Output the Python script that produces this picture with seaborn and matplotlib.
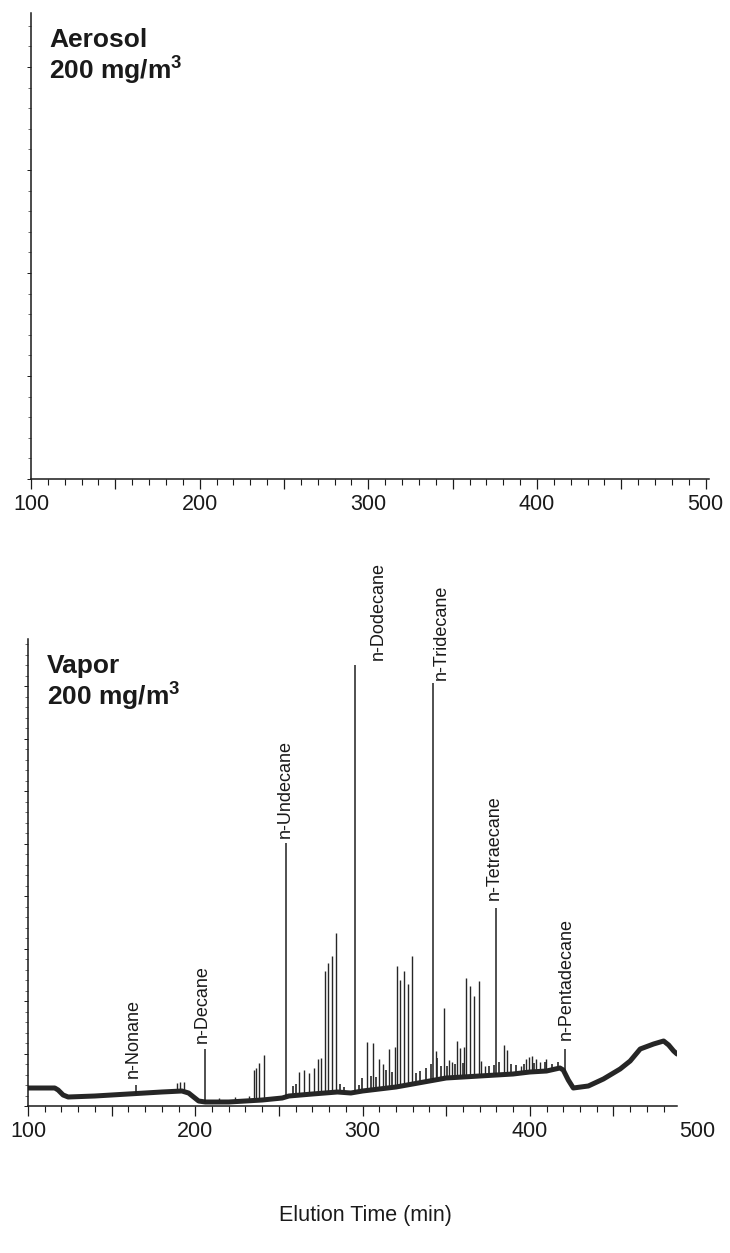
import numpy as np
import pandas as pd
import matplotlib
matplotlib.use("Agg")
import matplotlib.pyplot as plt
from matplotlib.ticker import MultipleLocator, FixedLocator
import matplotlib.transforms as mtransforms
import seaborn as sns

# ---- data -------------------------------------------------------------
# slowly drifting detector baseline of the vapour run (min, signal)
base_time = [100, 116, 118, 121, 124, 140, 160, 180, 192, 196, 199, 202, 206,
             220, 240, 252, 256, 270, 285, 293, 300, 310, 320, 330, 340, 350,
             360, 370, 380, 390, 400, 410, 418, 420, 423, 426, 435, 444, 454,
             460, 466, 474, 480, 483, 486, 488]
base_signal = [18, 18, 16, 11, 9, 10, 12, 14, 15, 13, 9, 5, 4,
               4, 6, 8, 10, 12, 14, 13, 15, 17, 19, 22, 25, 28,
               29, 30, 31, 32, 34, 35, 38, 36, 26, 18, 20, 27, 37,
               45, 57, 62, 65, 61, 55, 52]

# unlabelled peaks: retention time (min) and apex signal
peak_time = [189.0, 190.6, 193.4, 214, 224, 232, 235.0, 236.4, 238.3, 241.3,
             261.9, 264.9, 267.9, 270.9, 273.3, 275.3, 277.5, 279.5, 281.5, 284.3,
             302.8, 306.4, 309.8, 312.4, 315.8, 319.2, 320.5, 322.5, 324.5, 327.0,
             329.5, 344.0, 349.0, 351.5, 353.7, 356.7, 358.3, 360.7, 362.0, 364.5,
             366.5, 369.5, 370.7, 373.0, 384.6, 386.6, 394.6, 397.6, 399.6, 401.6,
             403.6, 406.2, 409.6]
peak_apex = [23, 24, 24, 8, 9, 10, 36, 38, 43, 51,
             34, 36, 33, 38, 47, 48, 135, 143, 150, 173,
             64, 63, 47, 42, 57, 59, 140, 126, 135, 122,
             150, 55, 98, 46, 44, 65, 58, 59, 128, 120,
             110, 125, 45, 40, 61, 56, 40, 47, 49, 50,
             47, 44, 47]

# small co-eluting peaks riding on the baseline
minor_time = [258.5, 260.5, 286.8, 289.0, 297.6, 299.8, 304.8, 307.8, 313.8,
              317.7, 332.0, 334.5, 337.7, 340.7, 344.7, 347.0, 350.7, 355.0,
              360.0, 375.5, 378.8, 381.8, 389.0, 392.0, 396.8, 402.8, 408.8,
              413.0, 417.0]
minor_apex = [20, 22, 22, 19, 21, 28, 30, 29, 36, 34, 33, 35, 38, 42, 48, 40,
              40, 42, 43, 40, 41, 44, 42, 41, 42, 43, 44, 42, 44]

# identified n-alkanes
alkane_names = ["n-Nonane", "n-Decane", "n-Undecane", "n-Dodecane",
                "n-Tridecane", "n-Tetraecane", "n-Pentadecane"]
alkane_time = [164.7, 206.0, 254.4, 295.5, 342.0, 379.8, 421.1]
alkane_apex = [21, 57, 263, 441, 423, 198, 57]

tick_values = [100, 200, 300, 400, 500]
panel_titles = ["Aerosol", "Vapor"]
concentration = r"200 mg/m$^{\mathbf{3}}$"
x_title = "Elution Time (min)"

# ---- style ------------------------------------------------------------
sns.set_theme(style="ticks")
plt.rcParams["font.family"] = ["Liberation Sans", "DejaVu Sans"]
plt.rcParams["mathtext.fontset"] = "custom"
plt.rcParams["mathtext.rm"] = "Liberation Sans"
plt.rcParams["mathtext.bf"] = "Liberation Sans:bold"

W, H = 730, 1253
fig = plt.figure(figsize=(W / 100, H / 100), dpi=100)
fig.patch.set_facecolor("white")

def px_axes(left, top, right, bottom):
    return fig.add_axes([left / W, 1 - bottom / H, (right - left) / W, (bottom - top) / H])

ax_top = px_axes(31, 13, 709, 479)
ax_bot = px_axes(28, 639, 677, 1106)

ink = "#1a1a1a"
TICK_LEN, TICK_PAD, TICK_SIZE = 7, 3.5, 15.5

def style_axis(ax, xmax, ymax, ymajor):
    ax.set_facecolor("white")
    ax.set_xlim(100, xmax)
    ax.set_ylim(0, ymax)
    sns.despine(ax=ax)
    for s in ("left", "bottom"):
        ax.spines[s].set_color(ink)
        ax.spines[s].set_linewidth(1.1)
    majors = [t for t in range(100, 501, 50) if t <= xmax]
    ax.xaxis.set_major_locator(FixedLocator(majors))
    ax.xaxis.set_minor_locator(MultipleLocator(10))
    ax.set_xticklabels([str(t) if t in tick_values else "" for t in majors])
    ax.yaxis.set_major_locator(MultipleLocator(ymajor))
    ax.yaxis.set_minor_locator(MultipleLocator(ymajor / 5))
    ax.tick_params(axis="x", which="major", length=TICK_LEN, width=0.9, color=ink,
                   labelsize=TICK_SIZE, pad=TICK_PAD, labelcolor=ink)
    ax.tick_params(axis="x", which="minor", length=4, width=0.8, color=ink)
    ax.tick_params(axis="y", which="major", length=3, width=0.7, color=ink, labelleft=False)
    ax.tick_params(axis="y", which="minor", length=2, width=0.6, color="#555555")

style_axis(ax_top, 502, 466, 103)
style_axis(ax_bot, 488, 467, 52.5)

# ---- vapour chromatogram ---------------------------------------------
trace = "#262626"
base_df = pd.DataFrame({"time": base_time, "signal": base_signal})
sns.lineplot(data=base_df, x="time", y="signal", ax=ax_bot, color=trace,
             linewidth=3.6, sort=True, estimator=None, legend=False)

minor_base = np.interp(minor_time, base_time, base_signal)
ax_bot.vlines(minor_time, minor_base, minor_apex, color=trace, linewidth=1.2)

peak_base = np.interp(peak_time, base_time, base_signal)
ax_bot.vlines(peak_time, peak_base, peak_apex, color=trace, linewidth=1.0)

alk_base = np.interp(alkane_time, base_time, base_signal)
ax_bot.vlines(alkane_time, alk_base, alkane_apex, color="#1f1f1f", linewidth=1.1)

label_shift = [(-1.7, 7), (-2.0, 6), (-0.5, 5), (14.0, 5), (5.3, 3), (-0.8, 8), (0.5, 9)]
for name, t, a, (dx, dy) in zip(alkane_names, alkane_time, alkane_apex, label_shift):
    ax_bot.text(t + dx, a + dy, name, rotation=90, ha="center", va="bottom",
                fontsize=13, color=ink, clip_on=False)

for ax in (ax_top, ax_bot):
    ax.set_xlabel("")
    ax.set_ylabel("")

# "500" sits just beyond the end of the lower time axis, level with the tick labels
trans = mtransforms.blended_transform_factory(ax_bot.transData, ax_bot.transAxes)
trans = trans + mtransforms.ScaledTranslation(0, -(TICK_LEN + TICK_PAD) / 72, fig.dpi_scale_trans)
ax_bot.text(500, 0, "500", transform=trans, ha="center", va="top",
            fontsize=TICK_SIZE, color=ink, clip_on=False)

# ---- panel titles and axis title -----------------------------------------
for title, (x0, y0) in zip(panel_titles, [(49, 47), (47, 673)]):
    fig.text(x0 / W, 1 - y0 / H, title, fontsize=19, fontweight="bold",
             color=ink, va="baseline", ha="left")
    fig.text(x0 / W, 1 - (y0 + 32) / H, concentration, fontsize=19,
             fontweight="bold", color=ink, va="baseline", ha="left")

fig.text(365 / W, 1 - 1215 / H, x_title, fontsize=15.5, color=ink,
         ha="center", va="center")

fig.savefig("out.png", dpi=100, facecolor="white")
